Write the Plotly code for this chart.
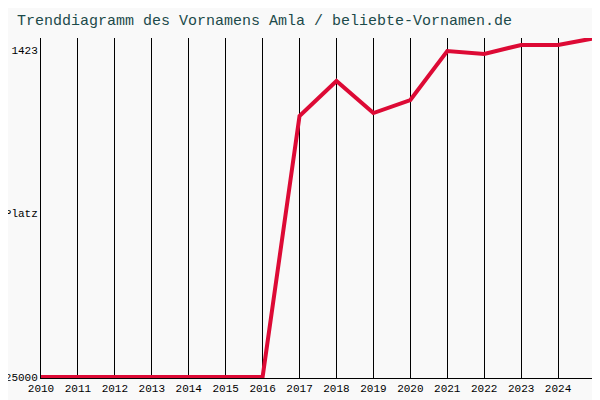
import plotly.graph_objects as go

years = list(range(2010, 2026))
ranks = [25000]*7 + [6180, 3660, 5970, 5030, 1500, 1710, 1060, 1060, 560]
ytick_vals = [1423, 13211, 25000]
ytick_text = ["1423", "Platz", "25000"]

fig = go.Figure(go.Scatter(x=years, y=ranks, mode="lines",
                           line=dict(color="#dd0a35", width=4), cliponaxis=False))
fig.update_layout(
    width=600, height=400, paper_bgcolor="#f9f9f9", plot_bgcolor="#f9f9f9",
    margin=dict(l=33, r=13, t=30, b=30, autoexpand=False), showlegend=False,
    font=dict(family="Liberation Mono", size=11, color="#000"),
    title=dict(text="Trenddiagramm des Vornamens Amla / beliebte-Vornamen.de",
               x=0.015, y=0.985, xanchor="left", yanchor="top",
               font=dict(family="Liberation Mono", size=15, color="#1c4a4a")),
)
fig.update_xaxes(range=[2010, 2025], tickvals=years, showgrid=True, gridcolor="#000",
                 gridwidth=1, zeroline=False, showline=True, linecolor="#000", ticks="",
                 automargin=False)
fig.update_yaxes(range=[25072, 558], tickvals=ytick_vals, ticktext=ytick_text,
                 showgrid=False, zeroline=False, showline=True, linecolor="#000", ticks="",
                 automargin=False, ticklabelstandoff=0)
fig.write_html("out.html")
